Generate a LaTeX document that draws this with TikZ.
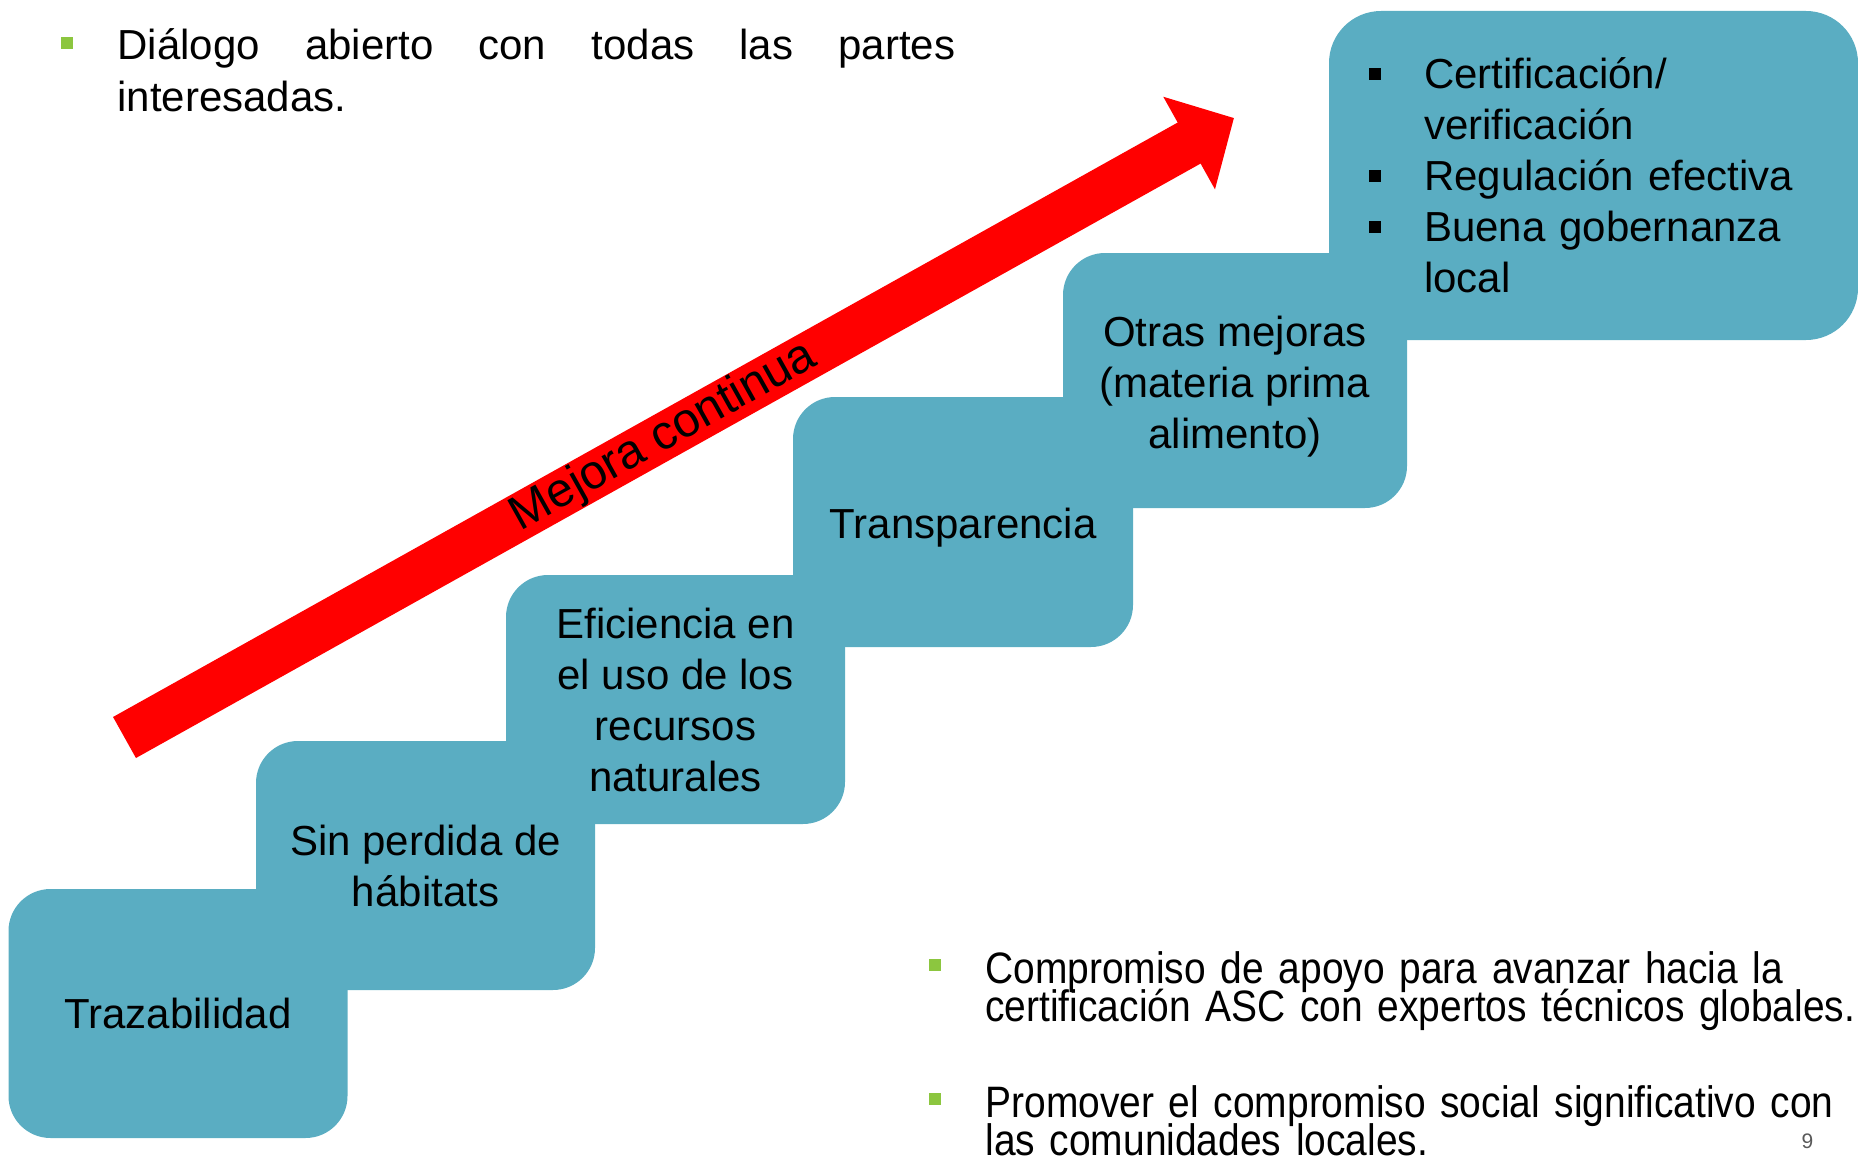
\documentclass[tikz,border=0pt]{standalone}
\usepackage{fontspec}
\setmainfont{Liberation Sans}
\newfontfamily\narrowsans[FakeStretch=0.885]{Liberation Sans}
\usetikzlibrary{arrows.meta}
\definecolor{stepteal}{RGB}{90,173,194}
\definecolor{bulletgreen}{RGB}{140,198,63}
\newcommand{\tightfont}{\narrowsans\fontsize{22}{19}\selectfont\lineskiplimit=-30pt\relax}
\tikzstyle{stepbox}=[fill=stepteal, rounded corners=21pt, inner sep=0pt, align=center,
  minimum width=169.5pt, minimum height=124.5pt, font=\fontsize{21}{25.5}\selectfont]
\tikzstyle{bigarrow}=[draw=red, line width=23.5pt, -{Triangle[length=25.7pt, width=51.5pt]}]
\tikzstyle{bullettext}=[inner sep=0pt, anchor=base west]
\tikzstyle{tightlines}=[font=\tightfont]
\newcommand{\greenbullet}[1]{\llap{\textcolor{bulletgreen}{\rule[#1]{5.75pt}{5.75pt}}\hspace{22.25pt}}}
\newcommand{\sqbullet}{\makebox[27.5pt][l]{\rule[4.5pt]{6pt}{6pt}}}

\begin{document}
\begin{tikzpicture}[x=0.5pt, y=-0.5pt]
      \useasboundingbox (0,0) rectangle (1858,1156);

      \node[stepbox] (traceBox) at (178,1013.5) {Trazabilidad};
      \node[stepbox] (habitatBox) at (425.5,865.5) {Sin perdida de\\hábitats};
      \node[stepbox] (resourceBox) at (675.5,699.5) {Eficiencia en\\el uso de los\\recursos\\naturales};
      \node[stepbox, minimum width=170pt, minimum height=125pt] (clearBox) at (963,522) {\rule{0pt}{21pt}Transparencia};
      \node[stepbox, rounded corners=26pt, minimum width=264.5pt, minimum height=164.5pt,
        text width=224.5pt, inner xsep=20pt, align=left] (certBox) at (1593.5,175.5)
        {\sqbullet Certificación/\\\hspace*{27.5pt}verificación\\\sqbullet Regulación efectiva\\
         \sqbullet Buena gobernanza\\\hspace*{27.5pt}local};
      \node[stepbox, minimum width=172pt, minimum height=127.5pt] (feedBox) at (1235,380.5)
        {\rule{0pt}{21.5pt}Otras mejoras\\(materia prima\\alimento)};

      \coordinate (arrowTail) at (124.5,737.5);
      \coordinate (arrowTip) at (1234,118);
      \draw[bigarrow] (arrowTail) -- (arrowTip);
      \node[rotate=29.2, inner sep=0pt, font=\fontsize{24}{29}\selectfont] (arrowLabel) at (664,437) {Mejora continua};

      \node[bullettext, text width=419pt, align=justify, font=\fontsize{21}{26}\selectfont] (dialogText) at (117,60)
        {\greenbullet{5.6pt}Diálogo abierto con todas las partes\linebreak interesadas.};
      \node[bullettext, tightlines, text width=450pt, align=left] (supportText) at (985,983)
        {\greenbullet{6.1pt}Compromiso de apoyo para avanzar hacia la\\certificación ASC con expertos técnicos globales.};
      \node[bullettext, tightlines, text width=450pt, align=left] (socialText) at (985,1117)
        {\greenbullet{6.1pt}Promover el compromiso social significativo con\\las comunidades locales.};
      \node[inner sep=0pt, anchor=base, text=black!65, font=\fontsize{10.5}{12}\selectfont] (pageNum) at (1807.5,1148) {9};
    \end{tikzpicture}
\end{document}
